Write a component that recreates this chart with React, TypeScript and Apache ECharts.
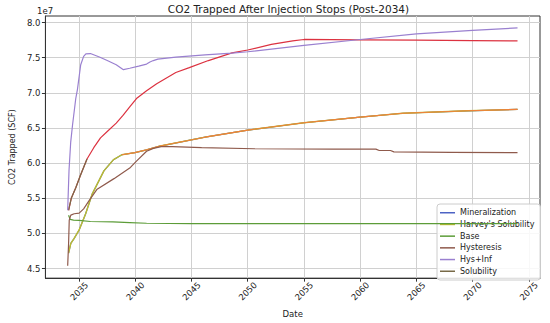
import React, { useEffect, useRef } from "react";
import * as echarts from "echarts";

const xTicks = [2035, 2040, 2045, 2050, 2055, 2060, 2065, 2070, 2075];
const yTicks = [4.5, 5.0, 5.5, 6.0, 6.5, 7.0, 7.5, 8.0];

// values in units of 1e7 SCF
const hysInfYears = [2033.98, 2034.1, 2034.25, 2034.41, 2034.7, 2034.85, 2035.14, 2035.4, 2035.6, 2036.0, 2036.8, 2037.5, 2038.3, 2038.94, 2039.5, 2040.3, 2041.0, 2041.3, 2041.6, 2042.0, 2043.6, 2046.2, 2048.6, 2050, 2055, 2060, 2065, 2070, 2074];
const hysInfValues = [5.33, 5.9, 6.3, 6.54, 6.92, 7.05, 7.4, 7.52, 7.555, 7.56, 7.51, 7.46, 7.4, 7.33, 7.35, 7.38, 7.41, 7.44, 7.46, 7.48, 7.51, 7.54, 7.565, 7.585, 7.675, 7.76, 7.84, 7.89, 7.925];

const redYears = [2034.06, 2034.3, 2034.7, 2035.1, 2035.7, 2036.3, 2036.9, 2037.5, 2038.3, 2038.9, 2039.5, 2040.1, 2041.0, 2041.9, 2043.6, 2044.8, 2046.5, 2048.6, 2050, 2052.1, 2054, 2055, 2060, 2065, 2070, 2074];
const redValues = [5.33, 5.5, 5.65, 5.82, 6.06, 6.22, 6.36, 6.45, 6.57, 6.68, 6.8, 6.92, 7.03, 7.13, 7.29, 7.36, 7.46, 7.57, 7.61, 7.69, 7.74, 7.76, 7.755, 7.75, 7.745, 7.74];

const harveyYears = [2034.06, 2034.26, 2034.56, 2035, 2035.58, 2036.16, 2037.2, 2038.06, 2038.8, 2039.96, 2041, 2042.1, 2046.2, 2050, 2055, 2060, 2063.8, 2069.6, 2074];
const harveyValues = [4.72, 4.86, 4.93, 5.05, 5.28, 5.56, 5.89, 6.05, 6.12, 6.15, 6.19, 6.24, 6.37, 6.47, 6.575, 6.655, 6.71, 6.745, 6.765];

const orangeYears = [2038.8, 2039.96, 2041, 2042.1, 2046.2, 2050, 2055, 2060, 2063.8, 2069.6, 2074];
const orangeValues = [6.12, 6.15, 6.19, 6.24, 6.37, 6.47, 6.575, 6.655, 6.71, 6.745, 6.765];

const hysteresisYears = [2033.98, 2034.06, 2034.12, 2034.26, 2034.56, 2035, 2035.4, 2035.9, 2036.6, 2038.1, 2039.5, 2040.1, 2041, 2041.6, 2042.3, 2043.3, 2045.9, 2050.6, 2057.6, 2061.4, 2061.7, 2062.7, 2063, 2068.1, 2074];
const hysteresisValues = [4.54, 4.85, 5.19, 5.26, 5.28, 5.29, 5.35, 5.47, 5.63, 5.78, 5.93, 6.03, 6.17, 6.21, 6.235, 6.235, 6.22, 6.205, 6.2, 6.2, 6.18, 6.18, 6.16, 6.155, 6.15];

const baseYears = [2034.06, 2034.2, 2034.5, 2035, 2036, 2038, 2039.5, 2041, 2045, 2074];
const baseValues = [5.26, 5.2, 5.19, 5.185, 5.17, 5.165, 5.155, 5.145, 5.14, 5.14];

const solubilityYears = [2034.06, 2034.3, 2034.7, 2035.1, 2035.7];
const solubilityValues = [5.33, 5.5, 5.65, 5.82, 6.06];

const legendNames = ["Mineralization", "Harvey's Solubility", "Base", "Hysteresis", "Hys+Inf", "Solubility"];

const FONT = "DejaVu Sans";

function pairs(xs: number[], ys: number[]) {
  return xs.map((x, i) => [x, ys[i]]);
}

function line(name: string, color: string, xs: number[], ys: number[], z = 2, width = 1.2) {
  return {
    name,
    type: "line",
    data: pairs(xs, ys),
    showSymbol: false,
    symbol: "none",
    z,
    lineStyle: { color, width },
    itemStyle: { color },
  };
}

export default function App() {
  const ref = useRef<HTMLDivElement>(null);
  useEffect(() => {
    if (!ref.current) return;
    const chart = echarts.init(ref.current, null, { renderer: "svg" });
    chart.setOption({
      animation: false,
      backgroundColor: "#ffffff",
      textStyle: { fontFamily: FONT },
      grid: { left: 37, right: 10, top: 16, bottom: 41, show: true, borderColor: "#333", borderWidth: 1, backgroundColor: "transparent" },
      graphic: [
        { type: "text", x: 288.5, y: 9, style: { text: "CO2 Trapped After Injection Stops (Post-2034)", align: "center", verticalAlign: "middle", fontSize: 10.5, fontFamily: FONT, fill: "#222" } },
        { type: "text", x: 37, y: 11, style: { text: "1e7", align: "left", verticalAlign: "middle", fontSize: 8.5, fontFamily: FONT, fill: "#222" } },
      ],
      legend: {
        data: legendNames,
        orient: "vertical",
        left: 437,
        top: 204,
        icon: "rect",
        itemWidth: 15,
        itemHeight: 1.5,
        itemGap: 2.2,
        padding: [4, 6, 4, 3],
        backgroundColor: "rgba(255,255,255,0.85)",
        borderColor: "#cccccc",
        borderWidth: 1,
        borderRadius: 3,
        textStyle: { fontSize: 8, fontFamily: FONT, color: "#222", lineHeight: 9.5 },
      },
      xAxis: {
        type: "value",
        min: 2032,
        max: 2076,
        name: "Date",
        nameLocation: "middle",
        nameGap: 30,
        nameTextStyle: { fontSize: 8.5, fontFamily: FONT, color: "#222" },
        axisLine: { show: true, lineStyle: { color: "#333" } },
        axisTick: { show: true, length: 3.5, customValues: xTicks, lineStyle: { color: "#333" } },
        axisLabel: {
          customValues: xTicks,
          rotate: 45,
          align: "center",
          verticalAlign: "middle",
          margin: 13,
          fontSize: 8.5,
          fontFamily: FONT,
          color: "#222",
          formatter: (v: number) => String(Math.round(v)),
        },
        splitLine: { show: true, customValues: xTicks, lineStyle: { color: "#d0d0d0", width: 1 } },
      },
      yAxis: {
        type: "value",
        min: 4.364,
        max: 8.094,
        name: "CO2 Trapped (SCF)",
        nameLocation: "middle",
        nameGap: 25,
        nameRotate: 90,
        nameTextStyle: { fontSize: 8, fontFamily: FONT, color: "#222" },
        axisLine: { show: true, lineStyle: { color: "#333" } },
        axisTick: { show: true, length: 3.5, customValues: yTicks, lineStyle: { color: "#333" } },
        axisLabel: {
          customValues: yTicks,
          margin: 5,
          fontSize: 8.5,
          fontFamily: FONT,
          color: "#222",
          formatter: (v: number) => v.toFixed(1),
        },
        splitLine: { show: true, customValues: yTicks, lineStyle: { color: "#d0d0d0", width: 1 } },
      },
      series: [
        line("Mineralization", "#4d63c4", harveyYears, harveyValues, 2),
        line("Harvey's Solubility", "#bdbd2e", harveyYears, harveyValues, 3, 1.4),
        line("_orange", "#f0803a", orangeYears, orangeValues, 4, 1.1),
        line("Base", "#5c9c38", baseYears, baseValues, 5),
        line("Hysteresis", "#8f5a4c", hysteresisYears, hysteresisValues, 6),
        line("_red", "#dc3240", redYears, redValues, 7),
        line("Solubility", "#786a48", solubilityYears, solubilityValues, 8),
        line("Hys+Inf", "#9a80d0", hysInfYears, hysInfValues, 9),
      ],
    });
    return () => chart.dispose();
  }, []);
  return <div ref={ref} style={{ width: 550, height: 323, position: "absolute", left: 0, top: 0 }} />;
}
